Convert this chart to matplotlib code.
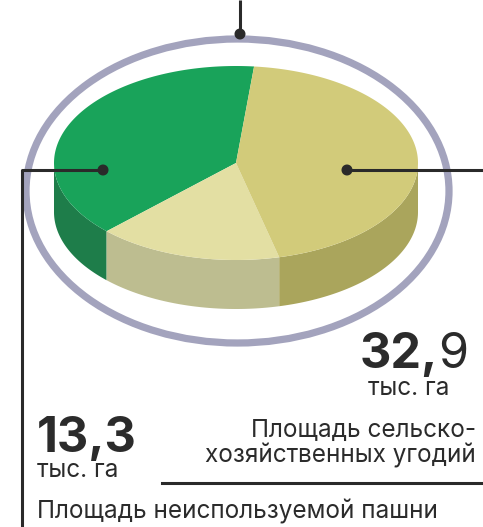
import numpy as np
import matplotlib; matplotlib.use("Agg")
import matplotlib.pyplot as plt
from matplotlib.patches import Polygon, Ellipse, Circle

# доли секторов (оценка по рисунку), порядок: против часовой стрелки от верхней границы
slice_names = ["неиспользуемая пашня", "прочее", "с/х угодья"]
slice_share = [39.0, 16.4, 44.6]
top_colors = ["#19a35a", "#e3dfa3", "#d2cb7a"]
side_colors = ["#1e7d4a", "#bdbd90", "#aaa55c"]
start_deg = 84.3

big_right, unit_right = ["32,", "9"], "тыс. га"
big_left, unit_left = "13,3", "тыс. га"
cap_right = ["Площадь сельско-", "хозяйственных угодий"]
cap_left = "Площадь неиспользуемой пашни"

W, H = 483, 527
fig = plt.figure(figsize=(W/100, H/100), dpi=100)
ax = fig.add_axes([0, 0, 1, 1]); ax.set_xlim(0, W); ax.set_ylim(H, 0); ax.axis("off")

cx, cy, a, b, depth = 236, 163, 182, 97, 49
def pt(t, dy=0):
    t = np.radians(t); return np.c_[cx + a*np.cos(t), cy - b*np.sin(t) + dy]

# кольцо
ax.add_patch(Ellipse((237.5, 191), 423, 304, fill=False, ec="#a3a3bd", lw=5.2))

angs = start_deg + np.concatenate([[0], np.cumsum(slice_share)]) / sum(slice_share) * 360
# боковые стенки
for i in range(len(slice_share)):
    t0, t1 = angs[i], angs[i+1]
    for lo, hi in [(180, 360), (540, 720)]:
        s, e = max(t0, lo), min(t1, hi)
        if e > s:
            tt = np.linspace(s, e, 80)
            poly = np.vstack([pt(tt), pt(tt[::-1], depth)])
            ax.add_patch(Polygon(poly, fc=side_colors[i], ec="none"))
# верх
for i in range(len(slice_share)):
    tt = np.linspace(angs[i], angs[i+1], 200)
    poly = np.vstack([[cx, cy], pt(tt)])
    ax.add_patch(Polygon(poly, fc=top_colors[i], ec="none"))

# выноски
lc = "#2a2a2a"
ax.plot([240, 240], [0, 34], color=lc, lw=2.2, solid_capstyle="butt")
ax.add_patch(Circle((240, 34), 4.8, color=lc))
ax.plot([347, W], [170, 170], color=lc, lw=2.2)
ax.add_patch(Circle((347, 170), 4.8, color=lc))
ax.plot([103, 21.5, 21.5], [170, 170, H], color=lc, lw=2.2)
ax.add_patch(Circle((103, 170), 4.8, color=lc))
ax.plot([162, W], [483, 483], color=lc, lw=2.2)

tc = "#2b2b2b"
fam = ["Inter", "DejaVu Sans"]
t9 = ax.text(468, 368, big_right[1], ha="right", va="baseline", fontsize=35, family=fam, color=tc)
fig.canvas.draw()
x9 = ax.transData.inverted().transform(t9.get_window_extent())[0][0]
ax.text(x9, 368, big_right[0], ha="right", va="baseline", fontsize=35, weight="bold", family=fam, color=tc)
ax.text(449, 395, unit_right, ha="right", va="baseline", fontsize=17.5, family=fam, color=tc)
ax.text(476, 437, cap_right[0], ha="right", va="baseline", fontsize=17.5, family=fam, color=tc)
ax.text(476, 463, cap_right[1], ha="right", va="baseline", fontsize=17.5, family=fam, color=tc)
ax.text(37, 452, big_left, ha="left", va="baseline", fontsize=35, weight="bold", family=fam, color=tc)
ax.text(37, 477, unit_left, ha="left", va="baseline", fontsize=17.5, family=fam, color=tc)
ax.text(37, 518, cap_left, ha="left", va="baseline", fontsize=17.5, family=fam, color=tc)

fig.savefig("out.png", dpi=100)
